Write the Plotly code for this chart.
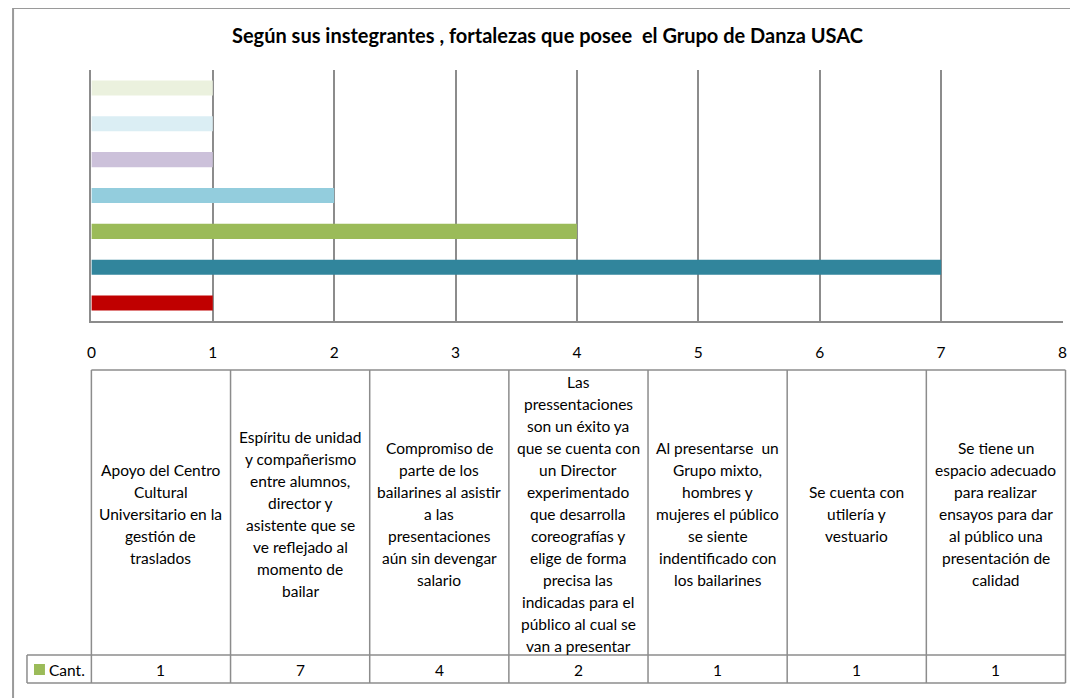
import plotly.graph_objects as go

# data (bottom bar first)
categories = [
    "Apoyo del Centro\nCultural\nUniversitario en la\ngestión de\ntraslados",
    "Espíritu de unidad\ny compañerismo\nentre alumnos,\ndirector y\nasistente que se\nve reflejado al\nmomento de\nbailar",
    "Compromiso de\nparte de los\nbailarines al asistir\na las\npresentaciones\naún sin devengar\nsalario",
    "Las\npressentaciones\nson un éxito ya\nque se cuenta con\nun Director\nexperimentado\nque desarrolla\ncoreografías y\nelige de forma\nprecisa las\nindicadas para el\npúblico al cual se\nvan a presentar",
    "Al presentarse  un\nGrupo mixto,\nhombres y\nmujeres el público\nse siente\nindentificado con\nlos bailarines",
    "Se cuenta con\nutilería y\nvestuario",
    "Se tiene un\nespacio adecuado\npara realizar\nensayos para dar\nal público una\npresentación de\ncalidad",
]
cant = [1, 7, 4, 2, 1, 1, 1]
bar_colors = ["#C00000", "#31859C", "#9BBB59", "#93CDDD", "#CCC1DA", "#DBEEF4", "#EBF1DE"]
series_name = "Cant."
title = "Según sus instegrantes , fortalezas que posee  el Grupo de Danza USAC"

# where the figure lands in the page screenshot (measured from earlier runs):
# screen_x = 11 + 0.993 * fig_x,  screen_y = 8 + fig_y
SX0, SXK, SY0 = 11, 0.993, 8
W, H = 1070, 690
FONT = "Lato, 'Open Sans', sans-serif"
GRID = "#8c8c8c"
TXT = 15.5


def px(x):
    return ((x - SX0) / SXK) / W


def py(y):
    return 1 - (y - SY0) / H


fig = go.Figure()
fig.add_trace(go.Bar(
    x=cant,
    y=list(range(len(cant))),
    orientation="h",
    marker=dict(color=bar_colors, line=dict(width=0)),
    name=series_name,
    showlegend=False,
    hoverinfo="x",
))

shapes = []
annotations = []

# outer chart frame: only the left and top edges are inside the picture
frame = dict(color="#9a9a9a", width=2)
shapes.append(dict(type="line", xref="paper", yref="paper",
                   x0=0.001, x1=0.001, y0=py(8), y1=0, line=frame))
shapes.append(dict(type="line", xref="paper", yref="paper",
                   x0=0.001, x1=1, y0=py(8), y1=py(8), line=frame))

# data table under the plot
tx0, tx1 = 90.5, 1066
ty_top, ty_mid, ty_bot = 370, 655, 683
leg_x0 = 26
ncol = len(categories)
colw = (tx1 - tx0) / ncol
line = dict(color=GRID, width=1.5)


def hline(y, xa, xb):
    shapes.append(dict(type="line", xref="paper", yref="paper",
                       x0=px(xa), x1=px(xb), y0=py(y), y1=py(y), line=line))


def vline(x, ya, yb):
    shapes.append(dict(type="line", xref="paper", yref="paper",
                       x0=px(x), x1=px(x), y0=py(ya), y1=py(yb), line=line))


hline(ty_top, tx0, tx1)
hline(ty_mid, leg_x0, tx1)
hline(ty_bot, leg_x0, tx1)
for i in range(ncol + 1):
    vline(tx0 + i * colw, ty_top, ty_bot)
vline(leg_x0, ty_mid, ty_bot)

LINE_H = 22
for i, (label, v) in enumerate(zip(categories, cant)):
    cx = tx0 + (i + 0.5) * colw
    rows = label.split("\n")
    n = len(rows)
    for k, r in enumerate(rows):
        yy = 514 + (k - (n - 1) / 2) * LINE_H
        annotations.append(dict(text=r, x=px(cx), y=py(yy), xref="paper", yref="paper",
                                showarrow=False, xanchor="center", yanchor="middle",
                                font=dict(family=FONT, size=TXT, color="#000000")))
    annotations.append(dict(text=str(v), x=px(cx), y=py(669.5), xref="paper", yref="paper",
                            showarrow=False, xanchor="center", yanchor="middle",
                            font=dict(family=FONT, size=TXT, color="#000000")))

# legend key in the table
shapes.append(dict(type="rect", xref="paper", yref="paper",
                   x0=px(33), x1=px(44), y0=py(675), y1=py(664),
                   fillcolor="#9BBB59", line=dict(width=0)))
annotations.append(dict(text=series_name, x=px(46), y=py(669.5), xref="paper", yref="paper",
                        showarrow=False, xanchor="left", yanchor="middle",
                        font=dict(family=FONT, size=TXT, color="#000000")))

# title
annotations.append(dict(text="<b>" + title + "</b>", x=px(547), y=py(35), xref="paper", yref="paper",
                        showarrow=False, xanchor="center", yanchor="middle",
                        font=dict(family=FONT, size=20, color="#000000")))

fig.update_layout(
    width=W, height=H,
    margin=dict(l=0, r=0, t=0, b=0),
    paper_bgcolor="white", plot_bgcolor="white",
    bargap=0.58,
    shapes=shapes,
    annotations=annotations,
    font=dict(family=FONT, color="#000000"),
    xaxis=dict(
        domain=[px(90.5), px(1063)],
        range=[0, 8], dtick=1, tick0=0,
        showgrid=True, gridcolor=GRID, gridwidth=1.5,
        showline=True, linecolor=GRID, linewidth=1.5,
        zeroline=False, ticks="",
        ticklabelstandoff=17,
        tickfont=dict(family=FONT, size=TXT, color="#000000"),
    ),
    yaxis=dict(
        domain=[py(321), py(70)],
        range=[-0.5, len(cant) - 0.5],
        showticklabels=False, showgrid=False, zeroline=False,
        showline=True, linecolor=GRID, linewidth=1.5,
        ticks="",
    ),
)

fig.write_html("out.html")
